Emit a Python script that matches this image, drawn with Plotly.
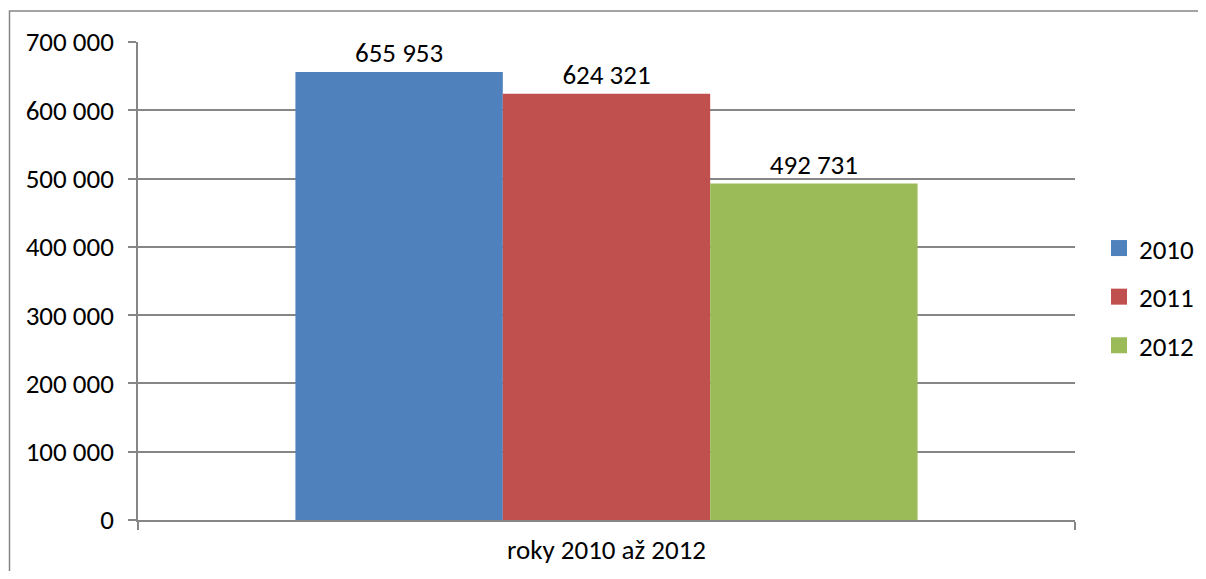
import plotly.graph_objects as go

categories = ["roky 2010 až 2012"]
series_names = ["2010", "2011", "2012"]
values_2010 = [655953]
values_2011 = [624321]
values_2012 = [492731]
colors = ["#4F81BD", "#C0504D", "#9BBB59"]
y_ticks = [0, 100000, 200000, 300000, 400000, 500000, 600000, 700000]

FONT = "Carlito, Calibri, Lato, sans-serif"
FS = 27
GRID = "#868686"

fig = go.Figure()
for name, vals, col in zip(series_names, [values_2010, values_2011, values_2012], colors):
    fig.add_trace(go.Bar(
        x=categories, y=vals, name=name, showlegend=False, legendgroup=name,
        marker=dict(color=col, line=dict(width=0)),
        texttemplate="%{y:,d}", textposition="outside",
        textfont=dict(family=FONT, size=FS, color="black"),
        cliponaxis=False,
    ))
# legend entries with larger square swatches
for name, col in zip(series_names, colors):
    fig.add_trace(go.Scatter(
        x=[None], y=[None], mode="markers", name=name, legendgroup=name,
        marker=dict(symbol="square", size=16, color=col), showlegend=True,
    ))

OFF = 8  # page body margin
W, H = 1206 - 2 * OFF, 579 - 2 * OFF
L, T = 138 - OFF, 42 - OFF
RIGHT, BOTTOM = 1075 - OFF, 520 - OFF
R, B = W - RIGHT, H - BOTTOM
pw, ph = RIGHT - L, BOTTOM - T

def px_x(p):
    return (p - OFF - L) / pw

def px_y(p):
    return (BOTTOM - (p - OFF)) / ph

fig.update_layout(
    width=W, height=H,
    margin=dict(l=L, r=R, t=T, b=B, pad=0, autoexpand=False),
    paper_bgcolor="white", plot_bgcolor="white",
    separators=", ",
    barmode="group", bargap=0.336, bargroupgap=0,
    font=dict(family=FONT, size=FS, color="black"),
    showlegend=True,
    legend=dict(
        x=px_x(1099), y=px_y(224), xanchor="left", yanchor="top",
        font=dict(family=FONT, size=FS, color="black"),
        tracegroupgap=10.5, itemwidth=30, bgcolor="rgba(0,0,0,0)",
        itemsizing="trace",
    ),
    xaxis=dict(
        type="category", showgrid=False, showline=True, linecolor=GRID, linewidth=1.5,
        ticks="outside", tickson="boundaries", ticklen=8, tickcolor=GRID, tickwidth=1.5,
        ticklabelstandoff=5,
        tickfont=dict(family=FONT, size=FS, color="black"), automargin=False,
    ),
    yaxis=dict(
        range=[0, 700000], tickvals=y_ticks, tickformat=",d",
        showgrid=True, gridcolor=GRID, gridwidth=1.5,
        showline=True, linecolor=GRID, linewidth=1.5,
        ticks="outside", ticklen=8, tickcolor=GRID, tickwidth=1.5,
        ticklabelstandoff=9, automargin=False,
        tickfont=dict(family=FONT, size=FS, color="black"),
        zeroline=False,
    ),
    shapes=[dict(
        type="rect", xref="paper", yref="paper",
        x0=px_x(9.5), x1=px_x(1204), y0=px_y(11), y1=px_y(600),
        line=dict(color=GRID, width=1.5), fillcolor="rgba(0,0,0,0)", layer="below",
    )],
)

fig.write_html("out.html")
